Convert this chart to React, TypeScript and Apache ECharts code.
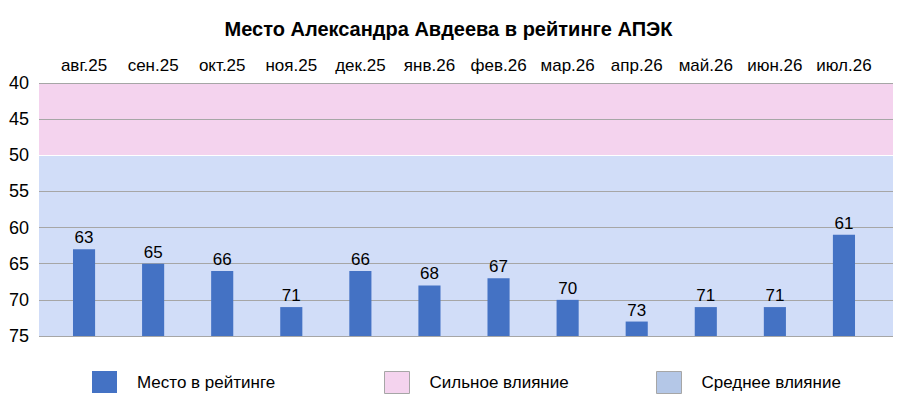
import React, { useEffect, useRef } from "react";
import * as echarts from "echarts";

const titleText = "Место Александра Авдеева в рейтинге АПЭК";
const categories = [
  "авг.25", "сен.25", "окт.25", "ноя.25", "дек.25", "янв.26",
  "фев.26", "мар.26", "апр.26", "май.26", "июн.26", "июл.26",
];
const ranks = [63, 65, 66, 71, 66, 68, 67, 70, 73, 71, 71, 61];
const rankSeriesName = "Место в рейтинге";
const yMin = 40;
const yMax = 75;
const yInterval = 5;
const bandNames = ["Сильное влияние", "Среднее влияние"];
const bandFrom = [40, 50];
const bandTo = [50, 75];

const FONT = "Liberation Sans";
const BAR = "#4472C4";
const BAND_FILL = ["#F4D3EE", "#D1DDF8"];
const BAND_LEGEND = ["#F4D3EE", "#B4C7E7"];
const GRID_LINE = "#A6A6A6";

export default function App() {
  const ref = useRef<HTMLDivElement>(null);

  useEffect(() => {
    if (!ref.current) return;
    document.body.style.margin = "0";
    const chart = echarts.init(ref.current, null, { renderer: "svg" });

    const tickCount = Math.round((yMax - yMin) / yInterval) + 1;
    const splitColors: string[] = [];
    for (let i = 0; i < tickCount; i++) {
      const v = yMin + i * yInterval;
      splitColors.push(bandFrom.indexOf(v) > 0 ? "#FFFFFF" : GRID_LINE);
    }

    const gridTop = 83;
    const gridBottom = 412 - 336;
    const legendText = { fontFamily: FONT, fontSize: 17, color: "#000", padding: [0, 0, 0, 15] };

    const option: any = {
      animation: false,
      backgroundColor: "#FFFFFF",
      title: {
        text: titleText,
        left: "center",
        top: 14,
        textStyle: { fontFamily: FONT, fontSize: 20, fontWeight: "bold", color: "#000" },
      },
      legend: [
        {
          data: [{ name: rankSeriesName, icon: "rect", itemStyle: { color: BAR } }],
          left: 87, top: 366, itemWidth: 25, itemHeight: 22,
          selectedMode: false,
          textStyle: legendText,
        },
        {
          data: [{ name: bandNames[0], icon: "rect", itemStyle: { color: BAND_LEGEND[0], borderColor: "#A6A6A6", borderWidth: 1 } }],
          left: 379, top: 366, itemWidth: 25, itemHeight: 22,
          selectedMode: false,
          textStyle: legendText,
        },
        {
          data: [{ name: bandNames[1], icon: "rect", itemStyle: { color: BAND_LEGEND[1], borderColor: "#A6A6A6", borderWidth: 1 } }],
          left: 651, top: 366, itemWidth: 25, itemHeight: 22,
          selectedMode: false,
          textStyle: legendText,
        },
      ],
      grid: [
        { left: 49.5, right: 18.5, top: gridTop, bottom: gridBottom },
        { left: 39, right: 4, top: gridTop, bottom: gridBottom },
      ],
      xAxis: [
        {
          type: "category",
          gridIndex: 0,
          data: categories,
          position: "top",
          axisLine: { show: false },
          axisTick: { show: false },
          axisLabel: { fontFamily: FONT, fontSize: 17, color: "#000", margin: 9, interval: 0 },
          splitLine: { show: false },
          z: 3,
        },
        { type: "value", gridIndex: 1, min: 0, max: 1, show: false },
      ],
      yAxis: [
        {
          type: "value", gridIndex: 0, min: yMin, max: yMax, interval: yInterval,
          inverse: true, show: false, splitLine: { show: false },
        },
        {
          type: "value", gridIndex: 1, min: yMin, max: yMax, interval: yInterval,
          inverse: true,
          axisLine: { show: false },
          axisTick: { show: false },
          axisLabel: { fontFamily: FONT, fontSize: 18, color: "#000", margin: 10 },
          splitLine: { show: true, lineStyle: { color: splitColors, width: 1 } },
          z: 2,
        },
      ],
      series: [
        ...bandNames.map((name, i) => ({
          name,
          type: "line",
          xAxisIndex: 1,
          yAxisIndex: 1,
          data: [[0, bandFrom[i]]],
          symbol: "none",
          lineStyle: { width: 0 },
          itemStyle: { color: BAND_LEGEND[i] },
          silent: true,
          z: 0,
          markArea: {
            silent: true,
            z: 1,
            itemStyle: { color: BAND_FILL[i] },
            data: [[{ yAxis: bandFrom[i] }, { yAxis: bandTo[i] }]],
          },
        })),
        {
          name: rankSeriesName,
          type: "custom",
          xAxisIndex: 0,
          yAxisIndex: 0,
          z: 5,
          itemStyle: { color: BAR },
          data: ranks.map((v, i) => [i, v]),
          renderItem: (params: any, api: any) => {
            const idx = api.value(0);
            const v = api.value(1);
            const top = api.coord([idx, v]);
            const base = api.coord([idx, yMax]);
            const w = api.size([1, 0])[0] * 0.32;
            return {
              type: "rect",
              shape: { x: top[0] - w / 2, y: top[1], width: w, height: base[1] - top[1] },
              style: { fill: BAR },
              textContent: {
                style: { text: String(v), fontFamily: FONT, fontSize: 17, fill: "#000" },
              },
              textConfig: { position: "top", distance: 3 },
            };
          },
        },
      ],
    };

    chart.setOption(option);
    return () => chart.dispose();
  }, []);

  return <div ref={ref} style={{ width: 897, height: 412 }} />;
}
